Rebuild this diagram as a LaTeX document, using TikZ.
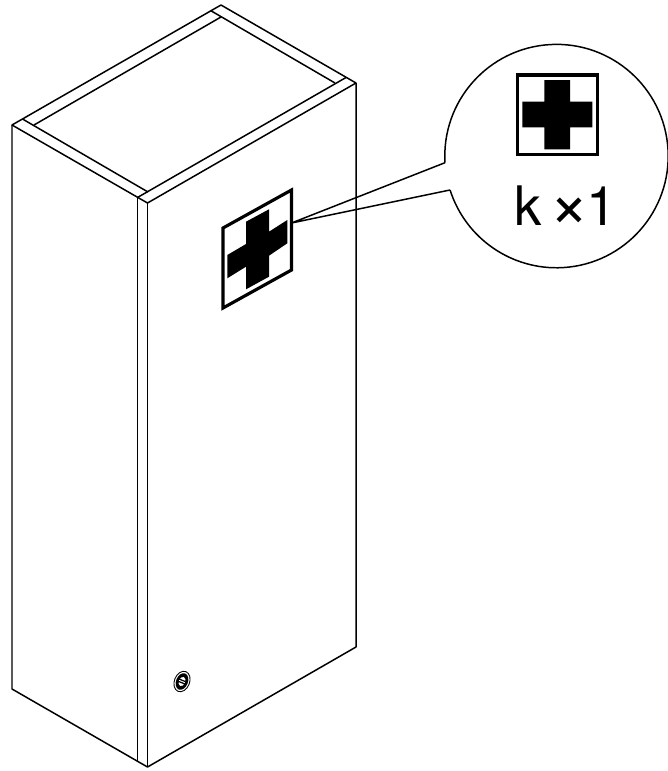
\documentclass[tikz,border=0pt]{standalone}
\usepackage{fontspec}
\setmainfont{TeX Gyre Heros}
\usetikzlibrary{calc}
\tikzset{
  edge line/.style = {line width = .85pt, line join = round},
  plate line/.style = {line width = 1.8pt, miter limit = 10},
  cross fill/.style = {fill = black, draw = none}
}

\begin{document}
\begin{tikzpicture}[x = .02cm, y = -.02cm]
\useasboundingbox (0, 0) rectangle (667, 771);
% cabinet corners
\coordinate (T) at (221, 5);
\coordinate (R) at (356, 83);
\coordinate (L) at (12, 125);
\coordinate (F) at (147.5, 203);
\coordinate (Lb) at (12, 689);
\coordinate (Rb) at (356, 647);
\coordinate (Fb) at (147.5, 767);
\coordinate (I) at (137.5, 197.5);
\coordinate (Ib) at (137.5, 761);
\draw [edge line] (T) -- (R) -- (F) -- (L) -- cycle;
\draw [edge line] (L) -- (Lb) -- (Fb) -- (Rb) -- (R);
\draw [edge line] (F) -- (Fb);
\draw [edge line] (I) -- (Ib);
% top frame
\draw [edge line] (210.5, 10.5) -- (335, 83);
\draw [edge line] (22.5, 119) -- (148, 192);
\draw [edge line] (34, 125) -- (221, 17);
\draw [edge line] (I) -- (346, 77.5);
% plate on the door
\draw [plate line] (223, 228) -- (291.5, 190) -- (291.5, 270) -- (223, 308) -- cycle;
\fill [cross fill] (246, 221.7) -- (269, 209.3) -- (269, 231.7) -- (287.3, 220) -- (287.3, 243.3)
  -- (269, 255.7) -- (269, 276.7) -- (246, 289.3) -- (246, 266.7) -- (227.3, 278.3)
  -- (227.3, 255) -- (246, 244) -- cycle;
% lock
\begin{scope}[shift = {(182, 681.5)}, rotate = -22]
  \draw [line width = .5pt] (0, 0) ellipse (7.6 and 10.6);
  \fill (0, 0) ellipse (5.9 and 8.6);
  \fill [white] (0, 0) ellipse (3.2 and 4.8);
  \draw [line width = .7pt] (-3.4, -1.2) -- (3.4, -1.2);
  \draw [line width = .7pt] (-3.4, 1.2) -- (3.4, 1.2);
\end{scope}
% magnifier
\coordinate (Z) at (556.7, 156);
\coordinate (Za) at (445, 162.7);
\coordinate (Zb) at (450, 190);
\coordinate (Ptr) at (291.5, 223);
\draw [edge line] (Za) -- (Ptr) -- (Zb);
\draw [edge line] (Za) arc (176.6 : 522.3 : 111.7);
\draw [plate line] (517.7, 75) rectangle (597.3, 154.5);
\fill [cross fill] (544.3, 80) -- (570, 80) -- (570, 101.7) -- (592.3, 101.7) -- (592.3, 127.3)
  -- (570, 127.3) -- (570, 149.3) -- (544.3, 149.3) -- (544.3, 127.3) -- (522.3, 127.3)
  -- (522.3, 101.7) -- (544.3, 101.7) -- cycle;
\node [name = qty, anchor = base west, inner sep = 0pt] at (514, 225)
  {\fontsize{31}{36}\selectfont k\hspace{4.3pt}\raisebox{-1.7pt}{\fontsize{39}{39}\selectfont ×}\hspace{-1.7pt}1};
\end{tikzpicture}
\end{document}
